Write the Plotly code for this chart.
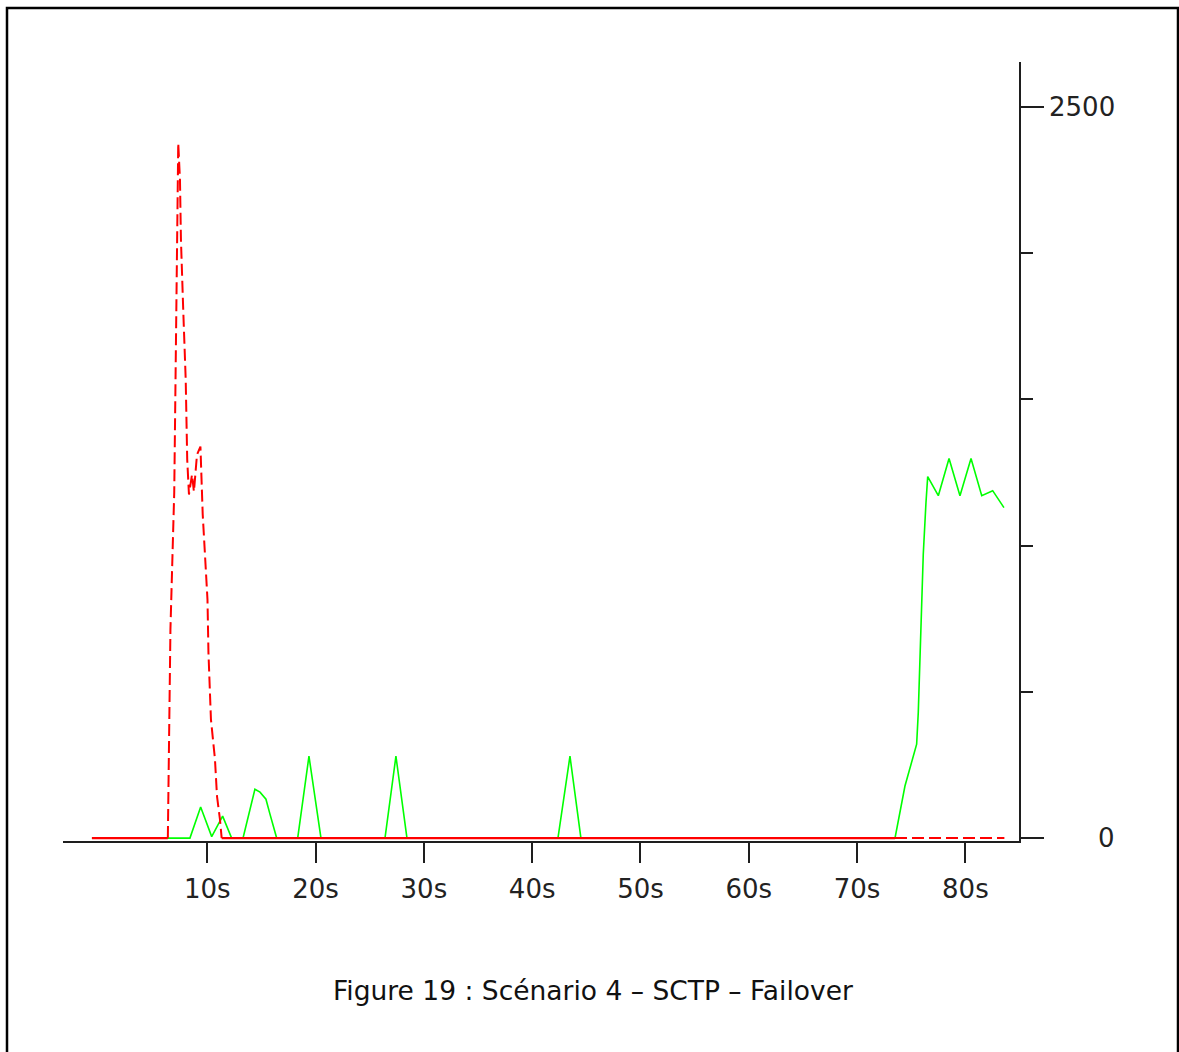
import plotly.graph_objects as go

# ---- data ----
green_t = [-0.65, 8.40, 9.39, 10.41, 11.42, 12.25, 13.30, 14.40, 14.87, 15.42, 15.79, 16.41,
           18.35, 19.39, 20.50, 26.41, 27.42, 28.44, 42.38, 43.49, 44.50,
           73.50, 74.42, 75.04, 75.50, 75.65, 75.81, 75.97, 76.11, 76.36, 76.52,
           77.50, 78.49, 79.50, 80.52, 81.51, 82.52, 83.56]
green_v = [0, 0, 106, 5, 75, 0, 0, 167, 157, 133, 82, 0,
           0, 280, 0, 0, 280, 0, 0, 280, 0,
           0, 178, 259, 321, 430, 604, 789, 970, 1147, 1236,
           1171, 1298, 1171, 1298, 1171, 1188, 1130]

red_dash_t = [6.36, 6.60, 6.95, 7.08, 7.25, 7.32, 7.48, 7.57, 7.78, 8.01, 8.15, 8.31, 8.59,
              8.77, 9.05, 9.37, 9.58, 9.79, 10.02, 10.11, 10.34, 10.71, 10.90, 11.17, 11.33,
              None, 73.50, 83.60]
red_dash_v = [0, 714, 1182, 1670, 2131, 2377, 2251, 2046, 1807, 1568, 1294, 1175, 1243,
              1185, 1311, 1339, 1107, 953, 816, 635, 406, 270, 143, 65, 0,
              None, 0, 0]

red_solid_t = [-0.65, 6.36, None, 11.33, 73.50]
red_solid_v = [0, 0, None, 0, 0]

x_tick_vals = [10, 20, 30, 40, 50, 60, 70, 80]
x_tick_text = ["10s", "20s", "30s", "40s", "50s", "60s", "70s", "80s"]
y_label_vals = [0, 2500]
y_label_text = ["0", "2500"]
caption = "Figure 19 : Scénario 4 – SCTP – Failover"

FONT = "DejaVu Sans"
AXC = "#1e1e1e"

fig = go.Figure()
fig.add_trace(go.Scatter(x=green_t, y=green_v, mode="lines",
                         line=dict(color="#00ff00", width=1.6), connectgaps=False))
fig.add_trace(go.Scatter(x=red_dash_t, y=red_dash_v, mode="lines",
                         line=dict(color="#ff0000", width=2, dash="12px,5px"), connectgaps=False))
fig.add_trace(go.Scatter(x=red_solid_t, y=red_solid_v, mode="lines",
                         line=dict(color="#ff0000", width=2.2), connectgaps=False))

L, R, T, B = 63, 1019, 62, 841
W, H = 1179, 1052
pw, ph = R - L, B - T

def px_x(p):
    return (p - L) / pw

def px_y(p):
    return (B - p) / ph

fig.update_layout(
    width=W, height=H,
    margin=dict(l=L, r=W - R, t=T, b=H - B, pad=0),
    paper_bgcolor="white", plot_bgcolor="white",
    showlegend=False,
    font=dict(family=FONT, size=26, color="#222222"),
    xaxis=dict(range=[-3.32, 84.95], showgrid=False, zeroline=False,
               showline=True, linecolor=AXC, linewidth=2,
               ticks="outside", ticklen=20, tickwidth=2, tickcolor=AXC,
               tickvals=x_tick_vals, ticktext=x_tick_text, ticklabelstandoff=4,
               tickfont=dict(family=FONT, size=26, color="#222222")),
    yaxis=dict(range=[-10, 2654], side="right", showgrid=False, zeroline=False,
               showline=True, linecolor=AXC, linewidth=2,
               ticks="outside", ticklen=23, tickwidth=2, tickcolor=AXC,
               tickvals=y_label_vals, showticklabels=False,
               minor=dict(dtick=500, ticks="outside", ticklen=12, tickwidth=2, tickcolor=AXC)),
)

for v, txt in zip(y_label_vals, y_label_text):
    fig.add_annotation(x=px_x(1117), y=v, xref="paper", yref="y", text=txt,
                       showarrow=False, xanchor="right", yanchor="middle",
                       font=dict(family=FONT, size=26, color="#222222"))

fig.add_annotation(x=px_x(593), y=px_y(990), xref="paper", yref="paper", text=caption,
                   showarrow=False, xanchor="center", yanchor="middle",
                   font=dict(family=FONT, size=26.5, color="#111111"))

fig.add_shape(type="rect", xref="paper", yref="paper",
              x0=px_x(7), x1=px_x(1178), y0=px_y(1070), y1=px_y(8),
              line=dict(color="black", width=2.5), fillcolor="rgba(0,0,0,0)", layer="above")

fig.write_html("out.html", config={"displayModeBar": False},
               post_script="document.body.style.margin='0';document.body.style.overflow='hidden';")
